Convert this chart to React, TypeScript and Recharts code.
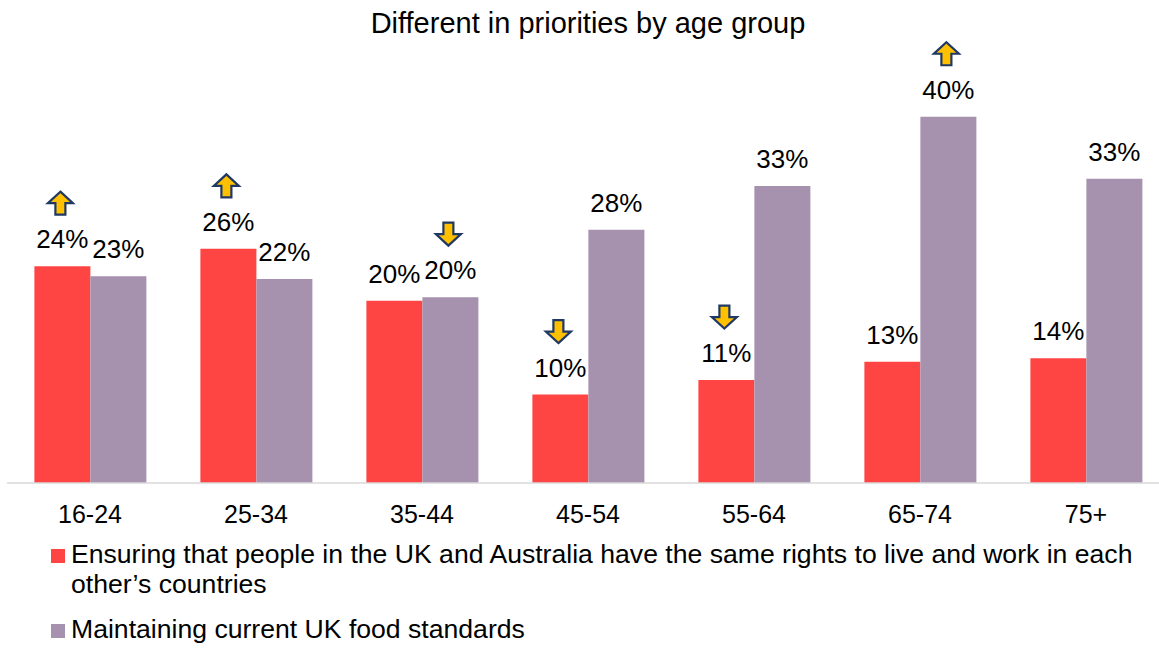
import { BarChart, Bar, XAxis, YAxis, LabelList } from "recharts";

const ageGroups = ["16-24", "25-34", "35-44", "45-54", "55-64", "65-74", "75+"];
const sameRights = [23.8, 25.7, 20.0, 9.7, 11.3, 13.3, 13.7];
const foodStandards = [22.7, 22.4, 20.4, 27.8, 32.6, 40.2, 33.4];
// arrow markers shown above some bars ("up" / "down" / null)
const sameRightsArrows = ["up", "up", null, "down", "down", null, null];
const foodStandardsArrows = [null, null, "down", null, null, "up", null];

const RED = "#FF4444";
const PURPLE = "#A691AE";

const data = ageGroups.map((age, i) => ({
  age,
  sameRights: sameRights[i],
  foodStandards: foodStandards[i],
}));

const Arrow = ({ cx, cy, dir }: { cx: number; cy: number; dir: string }) => {
  const s = dir === "up" ? 1 : -1;
  const pts = [
    [0, -11.5],
    [12.5, 0],
    [5, 0],
    [5, 11.5],
    [-5, 11.5],
    [-5, 0],
    [-12.5, 0],
  ]
    .map(([px, py]) => `${cx + px},${cy + s * py}`)
    .join(" ");
  return <polygon points={pts} fill="#FFC000" stroke="#1F3864" strokeWidth={2.2} strokeLinejoin="miter" />;
};

const makeLabel = (arrows: (string | null)[]) => (props: any) => {
  const { x, y, width, value, index } = props;
  const cx = Number(x) + Number(width) / 2;
  const base = Number(y) - 18;
  const dir = arrows[index];
  return (
    <g>
      <text x={cx} y={base} textAnchor="middle" fontSize={26} fill="#000">
        {`${Math.round(Number(value))}%`}
      </text>
      {dir && <Arrow cx={cx - 2} cy={base - 45} dir={dir} />}
    </g>
  );
};

const legendText = {
  position: "absolute" as const,
  left: 71,
  fontSize: 26.6,
  lineHeight: "30px",
  whiteSpace: "nowrap" as const,
  color: "#000",
};

const App = () => {
  return (
    <div
      style={{
        position: "absolute",
        left: 0,
        top: 0,
        width: 1159,
        height: 648,
        overflow: "hidden",
        background: "#fff",
        fontFamily: "'Liberation Sans', Arial, sans-serif",
      }}
    >
      <div
        style={{
          position: "absolute",
          left: 588,
          top: 6,
          transform: "translateX(-50%)",
          whiteSpace: "nowrap",
          fontSize: 29,
          lineHeight: "34px",
          color: "#000",
        }}
      >
        Different in priorities by age group
      </div>
      <div style={{ position: "absolute", left: 0, top: 0 }}>
        <BarChart
          width={1170}
          height={648}
          data={data}
          margin={{ top: 73, right: 1, left: 7, bottom: 125 }}
          barGap={0}
          barCategoryGap="16.5%"
        >
          <XAxis
            dataKey="age"
            height={40}
            tickLine={false}
            tickMargin={16}
            axisLine={{ stroke: "#D9D9D9", strokeWidth: 1.5 }}
            tick={{ fill: "#000", fontSize: 25 }}
            interval={0}
          />
          <YAxis hide domain={[0, 45]} />
          <Bar dataKey="sameRights" fill={RED} isAnimationActive={false}>
            <LabelList dataKey="sameRights" content={makeLabel(sameRightsArrows)} />
          </Bar>
          <Bar dataKey="foodStandards" fill={PURPLE} isAnimationActive={false}>
            <LabelList dataKey="foodStandards" content={makeLabel(foodStandardsArrows)} />
          </Bar>
        </BarChart>
      </div>
      <div style={{ position: "absolute", left: 51, top: 549, width: 14, height: 14, background: RED }} />
      <div style={{ ...legendText, top: 539 }}>
        Ensuring that people in the UK and Australia have the same rights to live and work in each
        <br />
        other’s countries
      </div>
      <div style={{ position: "absolute", left: 51, top: 624, width: 14, height: 14, background: PURPLE }} />
      <div style={{ ...legendText, top: 614 }}>Maintaining current UK food standards</div>
    </div>
  );
};

export default App;
